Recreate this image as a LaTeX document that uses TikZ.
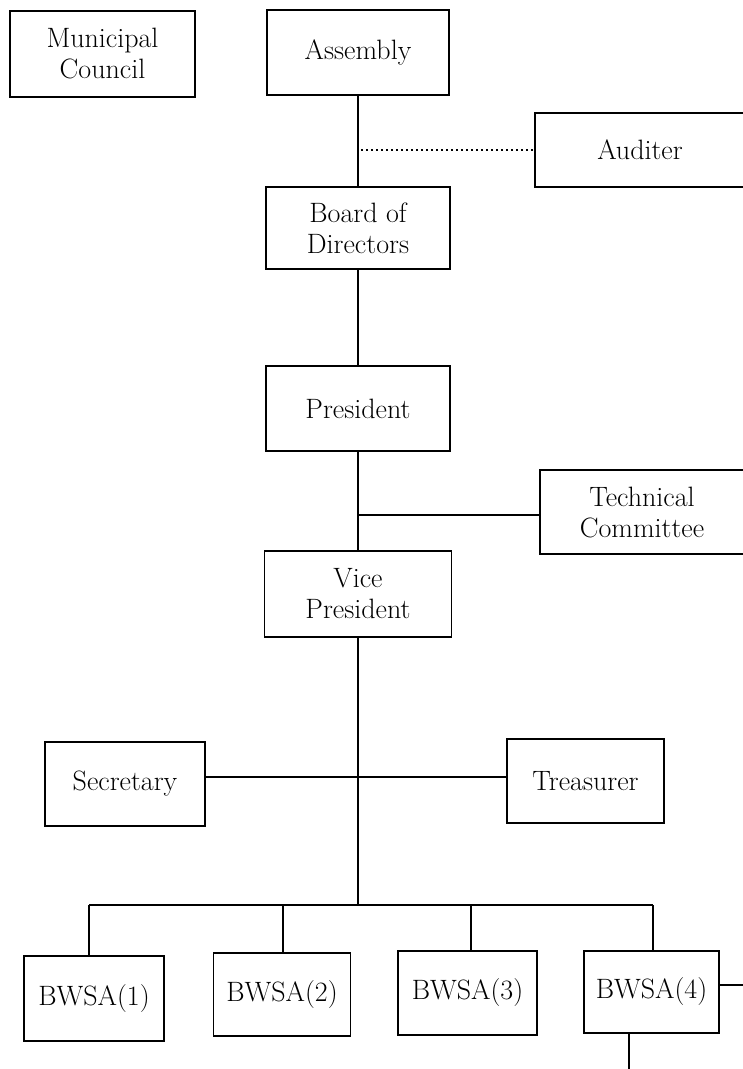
\documentclass[tikz,border=0pt]{standalone}
\usepackage{fontspec}
\begin{document}
\begin{tikzpicture}[x=1pt,y=-1pt,
  box/.style={draw, line width=1.4pt, inner sep=0pt, align=center,
    font=\fontsize{28}{31}\selectfont},
  link/.style={line width=1.4pt},
  dotlink/.style={line width=1.8pt, dash pattern=on 1.6pt off 3.4pt}]
\useasboundingbox (0,0) rectangle (743,1069);
\clip (0,0) rectangle (743,1069);
% boxes
\node[box, minimum width=185pt, minimum height=86pt] (mc) at (102.5,54) {Municipal\\Council};
\node[box, minimum width=182pt, minimum height=85pt] (asm) at (358,52.5) {Assembly};
\node[box, minimum width=210pt, minimum height=74pt] (aud) at (640,150) {Auditer};
\node[box, minimum width=184pt, minimum height=82pt] (bod) at (358,228) {Board of\\Directors};
\node[box, minimum width=184pt, minimum height=85pt] (pre) at (358,408.5) {President};
\node[box, minimum width=204pt, minimum height=84pt] (tc) at (642,512) {Technical\\Committee};
\node[box, minimum width=187pt, minimum height=86pt] (vp) at (358,594) {Vice\\President};
\node[box, minimum width=160pt, minimum height=84pt] (sec) at (125,784) {Secretary};
\node[box, minimum width=157pt, minimum height=84pt] (tre) at (585.5,781) {Treasurer};
\node[box, minimum width=140pt, minimum height=85pt] (b1) at (94,998.5) {BWSA(1)};
\node[box, minimum width=137pt, minimum height=83pt] (b2) at (282,994.5) {BWSA(2)};
\node[box, minimum width=139pt, minimum height=84pt] (b3) at (467.5,993) {BWSA(3)};
\node[box, minimum width=135pt, minimum height=82pt] (b4) at (651.5,992) {BWSA(4)};
% junction coordinates
\coordinate (jd) at (358,150);
\coordinate (jt) at (358,515);
\coordinate (js) at (358,777);
\coordinate (jb) at (358,905);
\coordinate (k1) at (89,905);
\coordinate (k2) at (283,905);
\coordinate (k3) at (471,905);
\coordinate (k4) at (653,905);
\coordinate (e1) at (750,985);
\coordinate (e2) at (629,1075);
% connectors
\draw[link] (asm.south) -- (bod.north);
\draw[link] (bod.south) -- (pre.north);
\draw[link] (pre.south) -- (vp.north);
\draw[dotlink] ([xshift=3pt]jd) -- (aud.west |- jd);
\draw[link] (jt) -- (tc.west |- jt);
\draw[link] (vp.south) -- (jb);
\draw[link] (sec.east |- js) -- (js) -- (tre.west |- js);
\draw[link] (k1) -- (k4);
\draw[link] (k1) -- (k1 |- b1.north);
\draw[link] (k2) -- (k2 |- b2.north);
\draw[link] (k3) -- (k3 |- b3.north);
\draw[link] (k4) -- (k4 |- b4.north);
\draw[link] (b4.east |- e1) -- (e1);
\draw[link] (e2 |- b4.south) -- (e2);
\end{tikzpicture}
\end{document}
